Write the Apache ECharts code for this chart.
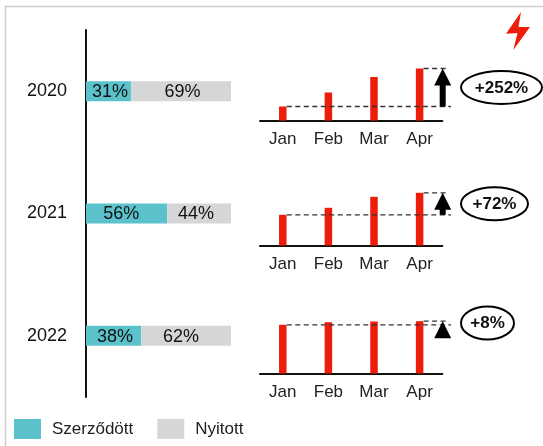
<!DOCTYPE html>
<html>
<head>
<meta charset="utf-8">
<style>
	html, body { margin: 0; padding: 0; background: #fff; }
	#chart { width: 543px; height: 446px; }
</style>
<script src="https://cdn.jsdelivr.net/npm/echarts@6/dist/echarts.min.js"></script>
</head>
<body>
<div id="chart"></div>
<script>
// adatok
const years = ["2020", "2021", "2022"];
const szerzodott = [31, 56, 38];
const nyitott = [69, 44, 62];
const months = ["Jan", "Feb", "Mar", "Apr"];
const monthly2020 = [14, 28, 43.5, 52];
const monthly2021 = [30.7, 37.7, 48.7, 52.7];
const monthly2022 = [48.7, 51.3, 52, 52.3];
const growthLabels = ["+252%", "+72%", "+8%"];

const monthly = [monthly2020, monthly2021, monthly2022];
const baselines = [120.5, 245.5, 373.5];
const pillWidths = [81, 67, 53];
// a címkék nincsenek pontosan középen az eredetin
const shiftSzerzodott = [1.5, -5.4, 1.5];
const shiftNyitott = [1.5, -3, -5];

const FONT = "Liberation Sans";
const TEAL = "#5bc2cc";
const GREY = "#d5d6d8";
const RED = "#ee1c0a";
const INK = "#111";

let chart = echarts.init(document.getElementById("chart"), null, { renderer: "canvas" });

const grids = [{ left: 86, width: 145, top: 30, height: 367 }];
const xAxes = [{ type: "value", min: 0, max: 100, gridIndex: 0, show: false }];
const yAxes = [
	{
		type: "category",
		gridIndex: 0,
		inverse: true,
		data: years,
		axisLine: { lineStyle: { color: INK, width: 2 } },
		axisTick: { show: false },
		axisLabel: { color: INK, fontFamily: FONT, fontSize: 18, margin: 19, padding: [3, 0, 0, 0] },
	},
];

function stackData(values, shifts) {
	return values.map(function (v, i) {
		return {
			value: v,
			label: {
				show: true,
				position: "inside",
				offset: [shifts[i], 1],
				color: INK,
				fontFamily: FONT,
				fontSize: 18,
				formatter: "{c}%",
			},
		};
	});
}

const series = [
	{
		name: "Szerződött",
		type: "bar",
		stack: "ev",
		barWidth: 20,
		itemStyle: { color: TEAL },
		data: stackData(szerzodott, shiftSzerzodott),
	},
	{
		name: "Nyitott",
		type: "bar",
		stack: "ev",
		barWidth: 20,
		itemStyle: { color: GREY },
		data: stackData(nyitott, shiftNyitott),
	},
];

// havi kis grafikonok + nyíl és ellipszis
monthly.forEach(function (values, i) {
	const g = i + 1;
	grids.push({ left: 260, width: 182.4, top: baselines[i] - 60, height: 60 });
	xAxes.push({
		type: "category",
		gridIndex: g,
		data: months,
		axisLine: { lineStyle: { color: INK, width: 2 } },
		axisTick: { show: false },
		axisLabel: { color: "#222", fontFamily: FONT, fontSize: 17, margin: 10, interval: 0 },
	});
	yAxes.push({ type: "value", gridIndex: g, min: 0, max: 60, show: false });
	series.push({
		type: "bar",
		xAxisIndex: g,
		yAxisIndex: g,
		barWidth: 7.5,
		itemStyle: { color: RED },
		data: values,
	});
	series.push({
		type: "custom",
		xAxisIndex: g,
		yAxisIndex: g,
		z: 5,
		silent: true,
		data: [[values[0], values[3]]],
		renderItem: function (params, api) {
			const first = api.coord([0, api.value(0)]);
			const last = api.coord([3, api.value(1)]);
			const dash = { stroke: "#333", lineWidth: 1.3, lineDash: [5, 3.5] };
			const ax = 442.7;
			const midY = (first[1] + last[1]) / 2;
			const headBottom = last[1] + 17;
			const children = [
				{ type: "line", shape: { x1: first[0] + 4, y1: first[1], x2: 451, y2: first[1] }, style: dash },
				{ type: "line", shape: { x1: last[0] + 4, y1: last[1], x2: 448, y2: last[1] }, style: dash },
				{
					type: "polygon",
					shape: { points: [[ax, last[1]], [ax + 8.5, headBottom], [ax - 8.5, headBottom]] },
					style: { fill: "#000" },
				},
				{
					type: "ellipse",
					shape: { cx: 461 + pillWidths[i] / 2, cy: midY, rx: pillWidths[i] / 2, ry: 16.5 },
					style: { fill: "#fff", stroke: "#000", lineWidth: 2 },
				},
				{
					type: "text",
					style: {
						x: 461 + pillWidths[i] / 2,
						y: midY + 0.5,
						text: growthLabels[i],
						align: "center",
						verticalAlign: "middle",
						fill: "#111",
						font: "bold 17px " + FONT,
					},
				},
			];
			if (first[1] > headBottom) {
				children.push({
					type: "rect",
					shape: { x: ax - 3, y: headBottom - 1, width: 6, height: first[1] - headBottom + 1 },
					style: { fill: "#000" },
				});
			}
			return { type: "group", children: children };
		},
	});
});

const option = {
	animation: false,
	backgroundColor: "#fff",
	grid: grids,
	xAxis: xAxes,
	yAxis: yAxes,
	legend: {
		left: 9,
		top: 414,
		itemWidth: 27,
		itemHeight: 20,
		itemGap: 24,
		icon: "rect",
		data: ["Szerződött", "Nyitott"],
		textStyle: { color: "#222", fontFamily: FONT, fontSize: 17, padding: [0, 0, 0, 6] },
	},
	graphic: [
		// keret
		{
			type: "polyline",
			shape: { points: [[5.5, 446], [5.5, 6.5], [543, 6.5]] },
			style: { fill: null, stroke: "#cfcfcf", lineWidth: 1.5 },
		},
		// villám ikon
		{
			type: "polygon",
			shape: {
				points: [[521, 12], [506, 33.8], [517.5, 33], [513.3, 50], [530, 27], [518.5, 27]],
			},
			style: { fill: RED },
		},
	],
	series: series,
};

chart.setOption(option);
</script>
</body>
</html>
